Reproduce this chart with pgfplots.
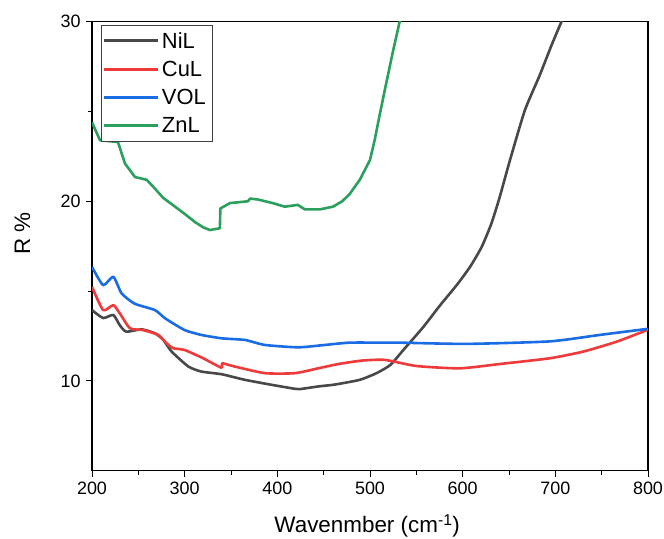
\documentclass[border=0pt]{standalone}
\usepackage{fontspec}
\setmainfont{Liberation Sans}
\usepackage{pgfplots}
\pgfplotsset{compat=1.18}
\definecolor{cNi}{RGB}{72,72,72}
\definecolor{cCu}{RGB}{238,58,58}
\definecolor{cVO}{RGB}{26,108,228}
\definecolor{cZn}{RGB}{42,160,92}
\begin{document}
\begin{tikzpicture}
\path[use as bounding box] (-92bp,-68bp) rectangle (572bp,470.7bp);
\begin{axis}[
  scale only axis,
  width=556bp, height=449bp,
  xmin=200, xmax=800, ymin=5, ymax=30,
  xtick={200,300,...,800}, ytick={10,20,30},
  minor x tick num=1, minor y tick num=1,
  tick align=outside,
  xtick pos=bottom, ytick pos=left,
  major tick length=6bp, minor tick length=4bp,
  every tick/.style={black, line width=1pt},
  axis line style={black, line width=1.1pt},
  /pgf/number format/assume math mode=true,
  /pgf/number format/1000 sep={},
  tick label style={font=\fontsize{18}{20}\selectfont},
  xticklabel style={yshift=-2bp},
  yticklabel style={xshift=-2bp},
  xlabel={Wavenmber (cm\textsuperscript{-1})},
  ylabel={R \%},
  label style={font=\fontsize{22.5}{25}\selectfont},
  xlabel style={at={(axis description cs:0.495,-0.138)}, anchor=base},
  ylabel style={at={(axis description cs:-0.125,0.528)}, anchor=center},
  legend style={at={(axis description cs:0.0156,0.9926)}, anchor=north west,
    draw=black!75, line width=0.6pt, fill=white,
    font=\fontsize{22}{24}\selectfont, inner xsep=2bp, inner ysep=5bp,
    row sep=7.4bp, /tikz/every even column/.append style={column sep=7bp}},
  legend cell align=left,
  legend image code/.code={\draw[#1, line width=3bp] (0bp,0bp) -- (54bp,0bp);},
  every axis plot/.append style={line width=2.6bp, line join=round},
]
\addplot[cNi, smooth, tension=0.35] coordinates {
(200,13.94) (212,13.5) (223,13.67) (230,13.1) (237,12.74) (253.6,12.87) (268,12.65)
(277,12.28) (286,11.63) (304,10.8) (318,10.52) (340,10.37) (365,10.06) (394,9.78)
(419,9.56) (424,9.54) (444,9.69) (460,9.78) (466,9.83) (489,10.06) (507,10.43)
(522,10.89) (536,11.72) (557.5,13.0) (575.5,14.2) (593.5,15.33) (608,16.35)
(620.5,17.46) (631,18.76) (640,20.24) (651,22.28) (667,25.05) (683,27) (696,28.7)
(707,30.05) (715,31)};
\addlegendentry{NiL}
\addplot[cCu, smooth, tension=0.35] coordinates {
(200,15.24) (212,13.94) (223,14.22) (230,13.76) (241,12.93) (255,12.83) (271.5,12.56)
(280.6,12.09) (287.7,11.82) (300,11.72) (320,11.26) (339.5,10.74) (340.6,10.98)
(354,10.8) (386.7,10.43) (419,10.43) (444,10.7) (466,10.94) (491,11.13) (516,11.17)
(550,10.83) (597,10.7) (640,10.94) (694,11.26) (730,11.63) (766,12.18) (800,12.85)};
\addlegendentry{CuL}
\addplot[cVO, smooth, tension=0.35] coordinates {
(200,16.35) (212,15.33) (223,15.8) (232,14.87) (246,14.3) (268,13.94) (279,13.48)
(300,12.83) (318,12.56) (340,12.37) (365,12.28) (386.7,12.0) (422.6,11.87) (451,12.0)
(478,12.13) (516,12.13) (532,12.13) (604,12.06) (694,12.2) (748,12.56) (800,12.9)};
\addlegendentry{VOL\rule{2bp}{0pt}}
\addplot[cZn] coordinates {
(200,24.4) (208.6,23.4) (228,23.3) (235.6,22.1) (246.4,21.35) (259,21.2) (268,20.7) (276.6,20.2)
(289.6,19.7) (300,19.3) (311,18.85) (320,18.55) (327.2,18.4) (338,18.5) (338.5,19.6) (348.9,19.9) (368.3,20.0)
(370.5,20.15) (379,20.1) (395,19.9) (408,19.7) (415,19.75) (422,19.8) (429.8,19.55) (446,19.55) (460,19.7)
(470,20.0) (478,20.4) (489,21.2) (496,21.9) (500,22.3) (505,23.4) (510,24.7) (516,26.2) (525,28.4) (532,30)
(536,31)};
\addlegendentry{ZnL}
\end{axis}
\end{tikzpicture}
\end{document}
